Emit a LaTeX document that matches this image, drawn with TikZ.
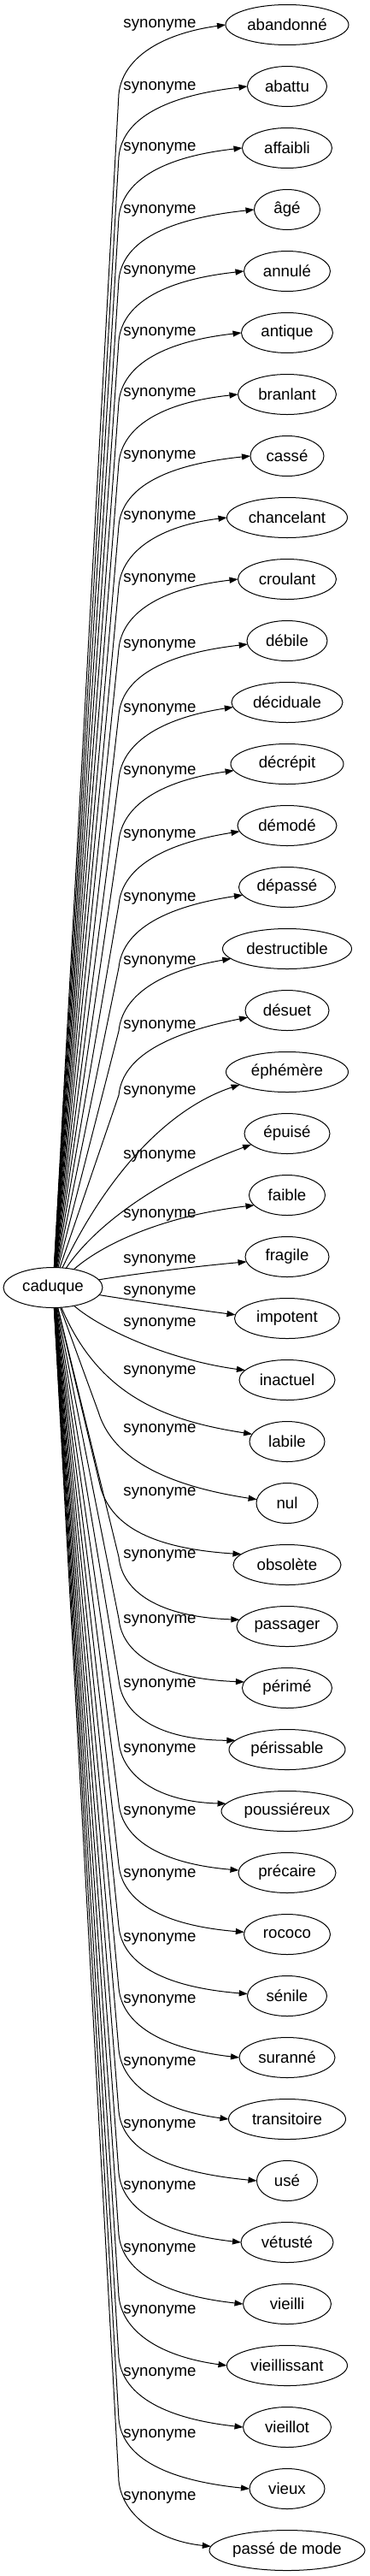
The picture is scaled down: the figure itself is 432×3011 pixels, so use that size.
\documentclass[tikz,border=0pt]{standalone}
\usepackage{fontspec}
\setmainfont{Liberation Sans}
\usepackage{tikz}
\usetikzlibrary{shapes.geometric, arrows.meta, positioning}

\begin{document}
\begin{tikzpicture}[
    x=1pt, y=-1pt,
    font=\fontsize{18.67}{22}\selectfont,
    word/.style={ellipse, draw, line width=1pt, minimum height=47pt, inner sep=0pt, outer sep=0pt},
    lbl/.style={inner sep=0pt},
    arrow/.style={->, line width=1pt, >={Triangle[length=10pt, width=7pt]}}
]
    \useasboundingbox (0,0) rectangle (432,3011);

    \node[word, minimum width=116pt] (caduque) at (62,1505) {caduque};

    \node[word, minimum width=144pt] (abandonne) at (336,29) {abandonné};
    \node[word, minimum width=93pt, below=25pt of abandonne] (abattu) {abattu};
    \node[word, minimum width=105pt, below=25pt of abattu] (affaibli) {affaibli};
    \node[word, minimum width=77pt, below=25pt of affaibli] (age) {âgé};
    \node[word, minimum width=101pt, below=25pt of age] (annule) {annulé};
    \node[word, minimum width=107pt, below=25pt of annule] (antique) {antique};
    \node[word, minimum width=115pt, below=25pt of antique] (branlant) {branlant};
    \node[word, minimum width=86pt, below=25pt of branlant] (casse) {cassé};
    \node[word, minimum width=141pt, below=25pt of casse] (chancelant) {chancelant};
    \node[word, minimum width=115pt, below=25pt of chancelant] (croulant) {croulant};
    \node[word, minimum width=94pt, below=25pt of croulant] (debile) {débile};
    \node[word, minimum width=130pt, below=25pt of debile] (deciduale) {déciduale};
    \node[word, minimum width=132pt, below=25pt of deciduale] (decrepit) {décrépit};
    \node[word, minimum width=116pt, below=25pt of decrepit] (demode) {démodé};
    \node[word, minimum width=113pt, below=25pt of demode] (depasse) {dépassé};
    \node[word, minimum width=151pt, below=25pt of depasse] (destructible) {destructible};
    \node[word, minimum width=98pt, below=25pt of destructible] (desuet) {désuet};
    \node[word, minimum width=143pt, below=25pt of desuet] (ephemere) {éphémère};
    \node[word, minimum width=100pt, below=25pt of ephemere] (epuise) {épuisé};
    \node[word, minimum width=89pt, below=25pt of epuise] (faible) {faible};
    \node[word, minimum width=98pt, below=25pt of faible] (fragile) {fragile};
    \node[word, minimum width=123pt, below=25pt of fragile] (impotent) {impotent};
    \node[word, minimum width=112pt, below=25pt of impotent] (inactuel) {inactuel};
    \node[word, minimum width=88pt, below=25pt of inactuel] (labile) {labile};
    \node[word, minimum width=72pt, below=25pt of labile] (nul) {nul};
    \node[word, minimum width=126pt, below=25pt of nul] (obsolete) {obsolète};
    \node[word, minimum width=118pt, below=25pt of obsolete] (passager) {passager};
    \node[word, minimum width=105pt, below=25pt of passager] (perime) {périmé};
    \node[word, minimum width=136pt, below=25pt of perime] (perissable) {périssable};
    \node[word, minimum width=154pt, below=25pt of perissable] (poussiereux) {poussiéreux};
    \node[word, minimum width=114pt, below=25pt of poussiereux] (precaire) {précaire};
    \node[word, minimum width=101pt, below=25pt of precaire] (rococo) {rococo};
    \node[word, minimum width=93pt, below=25pt of rococo] (senile) {sénile};
    \node[word, minimum width=112pt, below=25pt of senile] (suranne) {suranné};
    \node[word, minimum width=137pt, below=25pt of suranne] (transitoire) {transitoire};
    \node[word, minimum width=71pt, below=25pt of transitoire] (use) {usé};
    \node[word, minimum width=108pt, below=25pt of use] (vetuste) {vétusté};
    \node[word, minimum width=103pt, below=25pt of vetuste] (vieilli) {vieilli};
    \node[word, minimum width=141pt, below=25pt of vieilli] (vieillissant) {vieillissant};
    \node[word, minimum width=103pt, below=25pt of vieillissant] (vieillot) {vieillot};
    \node[word, minimum width=88pt, below=25pt of vieillot] (vieux) {vieux};
    \node[word, minimum width=182pt, below=25pt of vieux] (passedemode) {passé de mode};

    \draw[arrow] (caduque) -- (139,110) .. controls (143,70) and (185,40) .. (abandonne.west) node[lbl] at (187,29) {synonyme};
    \draw[arrow] (caduque) -- (139,183) .. controls (143,143) and (185,113) .. (abattu.west) node[lbl] at (187,102) {synonyme};
    \draw[arrow] (caduque) -- (139,254) .. controls (143,214) and (185,184) .. (affaibli.west) node[lbl] at (187,173) {synonyme};
    \draw[arrow] (caduque) -- (139,327) .. controls (143,287) and (185,257) .. (age.west) node[lbl] at (187,246) {synonyme};
    \draw[arrow] (caduque) -- (139,398) .. controls (143,358) and (185,328) .. (annule.west) node[lbl] at (187,317) {synonyme};
    \draw[arrow] (caduque) -- (139,470) .. controls (143,430) and (185,400) .. (antique.west) node[lbl] at (187,389) {synonyme};
    \draw[arrow] (caduque) -- (139,541) .. controls (143,501) and (185,471) .. (branlant.west) node[lbl] at (187,460) {synonyme};
    \draw[arrow] (caduque) -- (139,614) .. controls (143,574) and (185,544) .. (casse.west) node[lbl] at (187,533) {synonyme};
    \draw[arrow] (caduque) -- (139,685) .. controls (143,645) and (185,615) .. (chancelant.west) node[lbl] at (187,604) {synonyme};
    \draw[arrow] (caduque) -- (139,758) .. controls (143,718) and (185,688) .. (croulant.west) node[lbl] at (187,677) {synonyme};
    \draw[arrow] (caduque) -- (139,835) .. controls (143,795) and (185,765) .. (debile.185) node[lbl] at (187,754) {synonyme};
    \draw[arrow] (caduque) -- (139,910) .. controls (143,870) and (185,840) .. (deciduale.185) node[lbl] at (187,829) {synonyme};
    \draw[arrow] (caduque) -- (139,983) .. controls (143,943) and (185,913) .. (decrepit.187) node[lbl] at (187,902) {synonyme};
    \draw[arrow] (caduque) -- (139,1057) .. controls (143,1017) and (185,987) .. (demode.187) node[lbl] at (187,976) {synonyme};
    \draw[arrow] (caduque) -- (139,1131) .. controls (143,1091) and (185,1061) .. (depasse.190) node[lbl] at (187,1050) {synonyme};
    \draw[arrow] (caduque) -- (139,1205) .. controls (143,1165) and (185,1135) .. (destructible.190) node[lbl] at (187,1124) {synonyme};
    \draw[arrow] (caduque) -- (139,1280) .. controls (143,1240) and (185,1210) .. (desuet.190) node[lbl] at (187,1199) {synonyme};
    \draw[arrow] (caduque) .. controls (120,1383) and (190,1298) .. (ephemere.195) node[lbl] at (187,1276) {synonyme};
    \draw[arrow] (caduque) .. controls (116,1425) and (200,1372) .. (epuise.197) node[lbl] at (187,1351) {synonyme};
    \draw[arrow] (caduque) .. controls (125,1450) and (200,1420) .. (faible.197) node[lbl] at (187,1420) {synonyme};
    \draw[arrow] (caduque) .. controls (150,1490) and (230,1480) .. (fragile.187) node[lbl] at (187,1473) {synonyme};
    \draw[arrow] (caduque) .. controls (150,1519) and (230,1531) .. (impotent.176) node[lbl] at (187,1510) {synonyme};
    \draw[arrow] (caduque) .. controls (120,1555) and (200,1590) .. (inactuel.167) node[lbl] at (187,1547) {synonyme};
    \draw[arrow] (caduque) .. controls (115,1630) and (190,1660) .. (labile.168) node[lbl] at (187,1603) {synonyme};
    \draw[arrow] (caduque) -- (115,1650) .. controls (130,1700) and (185,1735) .. (nul.173) node[lbl] at (187,1671) {synonyme};
    \draw[arrow] (caduque) -- (118,1740) .. controls (132,1785) and (180,1810) .. (obsolete.167) node[lbl] at (187,1745) {synonyme};
    \draw[arrow] (caduque) -- (139,1820) .. controls (143,1860) and (185,1890) .. (passager.172) node[lbl] at (187,1818) {synonyme};
    \draw[arrow] (caduque) -- (139,1892) .. controls (143,1932) and (185,1962) .. (perime.172) node[lbl] at (187,1894) {synonyme};
    \draw[arrow] (caduque) -- (139,1964) .. controls (143,2004) and (185,2034) .. (perissable.170) node[lbl] at (187,1969) {synonyme};
    \draw[arrow] (caduque) -- (139,2036) .. controls (143,2076) and (185,2106) .. (poussiereux.173) node[lbl] at (187,2045) {synonyme};
    \draw[arrow] (caduque) -- (139,2108) .. controls (143,2148) and (185,2178) .. (precaire.177) node[lbl] at (187,2118) {synonyme};
    \draw[arrow] (caduque) -- (139,2180) .. controls (143,2220) and (185,2250) .. (rococo.177) node[lbl] at (187,2191) {synonyme};
    \draw[arrow] (caduque) -- (139,2252) .. controls (143,2292) and (185,2322) .. (senile.177) node[lbl] at (187,2266) {synonyme};
    \draw[arrow] (caduque) -- (139,2324) .. controls (143,2364) and (185,2394) .. (suranne.west) node[lbl] at (187,2338) {synonyme};
    \draw[arrow] (caduque) -- (139,2396) .. controls (143,2436) and (185,2466) .. (transitoire.west) node[lbl] at (187,2411) {synonyme};
    \draw[arrow] (caduque) -- (139,2468) .. controls (143,2508) and (185,2538) .. (use.west) node[lbl] at (187,2484) {synonyme};
    \draw[arrow] (caduque) -- (139,2540) .. controls (143,2580) and (185,2610) .. (vetuste.west) node[lbl] at (187,2556) {synonyme};
    \draw[arrow] (caduque) -- (139,2612) .. controls (143,2652) and (185,2682) .. (vieilli.west) node[lbl] at (187,2629) {synonyme};
    \draw[arrow] (caduque) -- (139,2684) .. controls (143,2724) and (185,2754) .. (vieillissant.west) node[lbl] at (187,2701) {synonyme};
    \draw[arrow] (caduque) -- (139,2756) .. controls (143,2796) and (185,2826) .. (vieillot.west) node[lbl] at (187,2774) {synonyme};
    \draw[arrow] (caduque) -- (139,2828) .. controls (143,2868) and (185,2898) .. (vieux.west) node[lbl] at (187,2846) {synonyme};
    \draw[arrow] (caduque) -- (139,2900) .. controls (143,2940) and (185,2970) .. (passedemode.177) node[lbl] at (187,2919) {synonyme};
\end{tikzpicture}
\end{document}
